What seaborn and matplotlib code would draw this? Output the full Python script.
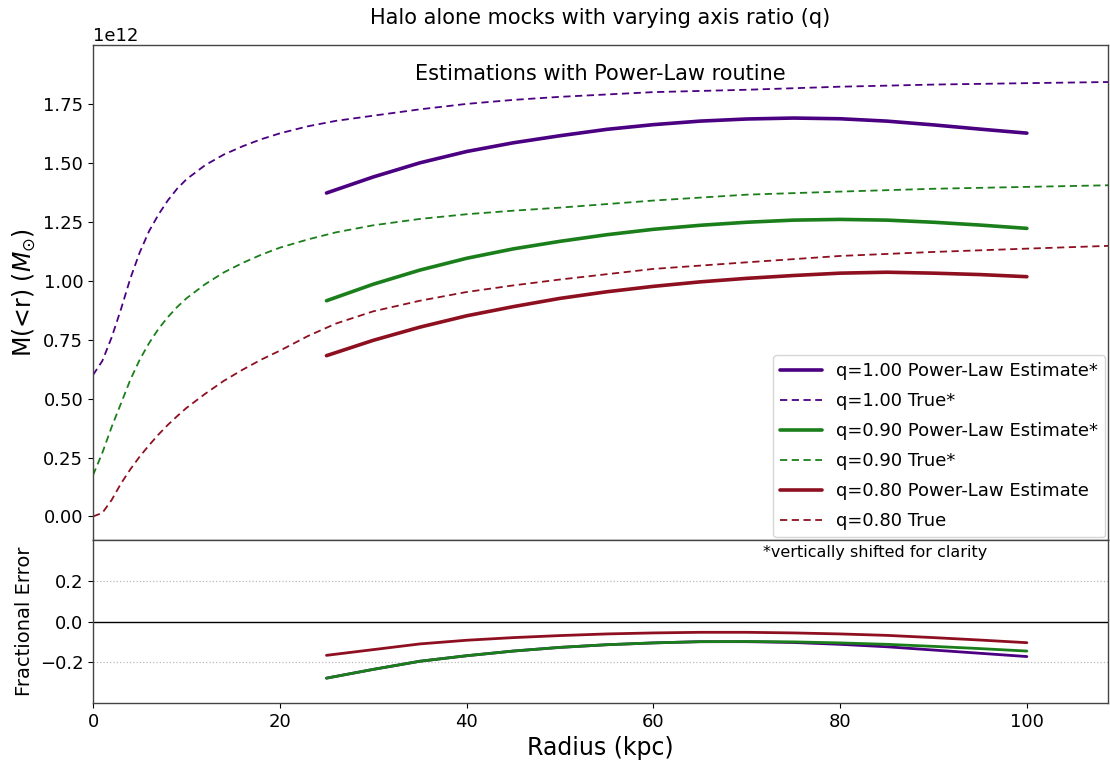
import numpy as np
import pandas as pd
import matplotlib
matplotlib.use("Agg")
import matplotlib.pyplot as plt
import seaborn as sns

# ---------------- data ----------------
# True mass profiles (units of 1e12 Msun), radius in kpc
r_true = [0, 1, 2, 3, 4, 5, 6, 7, 8, 9, 10, 12, 14, 16, 18, 20, 23, 26, 30, 35,
          40, 45, 50, 60, 70, 80, 90, 100, 108.9]
m_true_q100 = [0.60, 0.66, 0.76, 0.88, 1.01, 1.12, 1.21, 1.28, 1.34, 1.39, 1.43, 1.49,
               1.535, 1.57, 1.60, 1.625, 1.655, 1.678, 1.70, 1.727, 1.75, 1.767, 1.78,
               1.80, 1.81, 1.823, 1.832, 1.838, 1.843]
m_true_q090 = [0.175, 0.27, 0.38, 0.48, 0.58, 0.665, 0.735, 0.795, 0.845, 0.888, 0.925, 0.985,
               1.035, 1.075, 1.11, 1.14, 1.175, 1.205, 1.235, 1.262, 1.282, 1.297, 1.31,
               1.34, 1.365, 1.378, 1.39, 1.398, 1.405]
m_true_q080 = [0.0, 0.015, 0.07, 0.14, 0.20, 0.254, 0.302, 0.347, 0.388, 0.425, 0.46, 0.52,
               0.575, 0.622, 0.665, 0.703, 0.765, 0.818, 0.87, 0.915, 0.952, 0.98, 1.005,
               1.05, 1.078, 1.105, 1.122, 1.136, 1.148]

# Power-law estimates
r_est = [25, 30, 35, 40, 45, 50, 55, 60, 65, 70, 75, 80, 85, 90, 95, 100]
m_est_q100 = [1.372, 1.44, 1.50, 1.548, 1.585, 1.615, 1.642, 1.662, 1.677, 1.686,
              1.690, 1.687, 1.677, 1.661, 1.643, 1.626]
m_est_q090 = [0.915, 0.985, 1.045, 1.095, 1.135, 1.167, 1.195, 1.218, 1.235, 1.248,
              1.257, 1.260, 1.257, 1.248, 1.236, 1.222]
m_est_q080 = [0.682, 0.747, 0.803, 0.851, 0.890, 0.925, 0.953, 0.976, 0.995, 1.010,
              1.022, 1.032, 1.036, 1.032, 1.026, 1.017]

# Fractional errors
r_err = [25, 30, 35, 40, 45, 50, 55, 60, 65, 70, 75, 80, 85, 90, 95, 100]
err_q100 = [-0.278, -0.235, -0.195, -0.168, -0.145, -0.127, -0.114, -0.105, -0.099,
            -0.099, -0.103, -0.112, -0.124, -0.140, -0.156, -0.172]
err_q090 = [-0.278, -0.235, -0.195, -0.168, -0.145, -0.127, -0.114, -0.105, -0.099,
            -0.098, -0.100, -0.105, -0.112, -0.122, -0.133, -0.145]
err_q080 = [-0.166, -0.138, -0.110, -0.092, -0.079, -0.069, -0.061, -0.056, -0.053,
            -0.053, -0.056, -0.061, -0.068, -0.079, -0.091, -0.104]

labels_q = ["1.00", "0.90", "0.80"]
colors = ["#4b0082", "#1a7f1a", "#8e1020"]
est_suffix = ["*", "*", ""]

# ---------------- plotting ----------------
sns.set_style("ticks")
plt.rcParams["font.family"] = ["DejaVu Sans"]
plt.rcParams["text.color"] = "black"
plt.rcParams["axes.labelcolor"] = "black"
plt.rcParams["xtick.color"] = "black"
plt.rcParams["ytick.color"] = "black"

fig = plt.figure(figsize=(11.10, 7.61), dpi=100)
ax1 = fig.add_axes([0.0838, 0.2904, 0.9145, 0.6505])
ax2 = fig.add_axes([0.0838, 0.0762, 0.9145, 0.2142], sharex=ax1)

true_m = [m_true_q100, m_true_q090, m_true_q080]
est_m = [m_est_q100, m_est_q090, m_est_q080]
errs = [err_q100, err_q090, err_q080]

for i in range(3):
    q = labels_q[i]
    c = colors[i]
    sns.lineplot(x=r_est, y=np.array(est_m[i]) * 1e12, ax=ax1, color=c, lw=2.6,
                 sort=False, estimator=None,
                 label=f"q={q} Power-Law Estimate{est_suffix[i]}")
    sns.lineplot(x=r_true, y=np.array(true_m[i]) * 1e12, ax=ax1, color=c, lw=1.3,
                 sort=False, estimator=None, linestyle=(0, (4, 2.5)),
                 label=f"q={q} True{est_suffix[i]}")

for i in range(3):
    sns.lineplot(x=r_err, y=errs[i], ax=ax2, color=colors[i], lw=2.0,
                 sort=False, estimator=None, legend=False)

ax1.set_xlim(0, 108.7)
ax1.set_ylim(-0.1e12, 2.0e12)
ax1.set_yticks(np.arange(0, 1.76, 0.25) * 1e12)
ax1.tick_params(axis="y", labelsize=13)
ax1.tick_params(axis="x", labelbottom=False, length=0)
ax1.yaxis.get_offset_text().set_fontsize(13)
ax1.set_ylabel(r"M(<r) ($M_{\odot}$)", fontsize=17)
ax1.set_xlabel("")
ax1.set_title("Halo alone mocks with varying axis ratio (q)", fontsize=15, pad=15)
ax1.text(0.5, 0.962, "Estimations with Power-Law routine", transform=ax1.transAxes,
         ha="center", va="top", fontsize=15)
leg = ax1.legend(loc="lower right", fontsize=13, frameon=True, handlelength=2.3,
                 borderaxespad=0.15, labelspacing=0.66)

ax2.axhline(0.0, color="black", lw=1.0, zorder=1)
for yv in (0.2, -0.2):
    ax2.axhline(yv, color="#bbbbbb", lw=0.9, linestyle=":", zorder=1)
ax2.set_ylim(-0.4, 0.4)
ax2.set_yticks([-0.2, 0.0, 0.2])
ax2.set_xticks([0, 20, 40, 60, 80, 100])
ax2.tick_params(labelsize=13)
ax2.set_ylabel("Fractional Error", fontsize=14)
ax2.set_xlabel("Radius (kpc)", fontsize=17)
ax2.text(0.66, 0.97, "*vertically shifted for clarity", transform=ax2.transAxes,
         ha="left", va="top", fontsize=11.5)

for ax in (ax1, ax2):
    for sp in ax.spines.values():
        sp.set_color("#444444")
        sp.set_linewidth(1.0)

fig.savefig("out.png", dpi=100)
